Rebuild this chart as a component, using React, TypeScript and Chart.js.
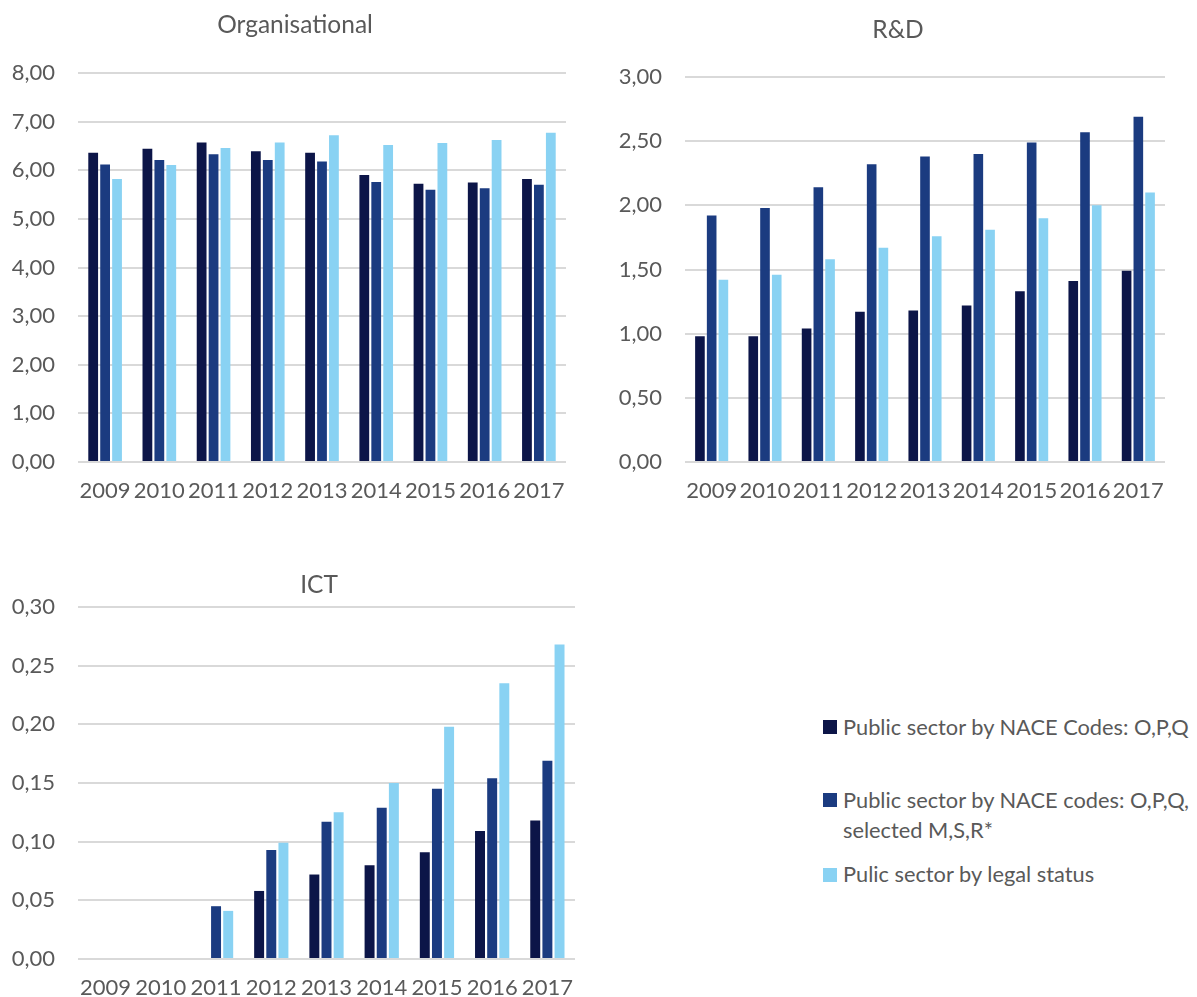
import React, { useEffect, useRef } from "react";
import { Chart, registerables } from "chart.js";

Chart.register(...registerables);

// Categories and series
const years = ["2009", "2010", "2011", "2012", "2013", "2014", "2015", "2016", "2017"];
const seriesNames = [
  "Public sector by NACE Codes: O,P,Q",
  "Public sector by NACE codes: O,P,Q, selected M,S,R*",
  "Pulic sector by legal status",
];
const seriesLegendLines = [
  ["Public sector by NACE Codes: O,P,Q"],
  ["Public sector by NACE codes: O,P,Q,", "selected M,S,R*"],
  ["Pulic sector by legal status"],
];

// Organisational
const orgNaceOPQ = [6.36, 6.44, 6.57, 6.39, 6.36, 5.9, 5.72, 5.75, 5.82];
const orgNaceExtended = [6.12, 6.21, 6.33, 6.21, 6.18, 5.76, 5.6, 5.63, 5.7];
const orgLegalStatus = [5.82, 6.11, 6.46, 6.57, 6.72, 6.52, 6.56, 6.62, 6.77];

// R&D
const rdNaceOPQ = [0.98, 0.98, 1.04, 1.17, 1.18, 1.22, 1.33, 1.41, 1.49];
const rdNaceExtended = [1.92, 1.98, 2.14, 2.32, 2.38, 2.4, 2.49, 2.57, 2.69];
const rdLegalStatus = [1.42, 1.46, 1.58, 1.67, 1.76, 1.81, 1.9, 2.0, 2.1];

// ICT
const ictNaceOPQ = [null, null, null, 0.058, 0.072, 0.08, 0.091, 0.109, 0.118];
const ictNaceExtended = [null, null, 0.045, 0.093, 0.117, 0.129, 0.145, 0.154, 0.169];
const ictLegalStatus = [null, null, 0.041, 0.099, 0.125, 0.15, 0.198, 0.235, 0.268];

// Axis ranges
const orgAxis = { max: 8, step: 1 };
const rdAxis = { max: 3, step: 0.5 };
const ictAxis = { max: 0.3, step: 0.05 };

const seriesColors = ["#0C1548", "#1B3B80", "#89D2F3"];
const textColor = "#595959";
const gridColor = "#D9D9D9";
const FONT = "Lato, 'Open Sans', sans-serif";

type Box = { left: number; top: number; width: number; height: number };
type Plot = { left: number; right: number; top: number; bottom: number };

type PanelProps = {
  title: string;
  series: (number | null)[][];
  axis: { max: number; step: number };
  box: Box;
  plot: Plot;
  titlePos: { x: number; y: number };
};

const fmt = (v: number) => v.toFixed(2).replace(".", ",");

function Panel({ title, series, axis, box, plot, titlePos }: PanelProps) {
  const ref = useRef<HTMLCanvasElement | null>(null);

  useEffect(() => {
    if (!ref.current) return;
    const titlePlugin = {
      id: "panelTitle",
      afterDraw(chart: any) {
        const ctx = chart.ctx;
        ctx.save();
        ctx.font = `24.5px ${FONT}`;
        ctx.fillStyle = textColor;
        ctx.textAlign = "center";
        ctx.textBaseline = "middle";
        ctx.fillText(title, titlePos.x, titlePos.y);
        ctx.restore();
      },
    };
    const chart = new Chart(ref.current, {
      type: "bar",
      data: {
        labels: years,
        datasets: series.map((d, i) => ({
          label: seriesNames[i],
          data: d,
          backgroundColor: seriesColors[i],
          borderWidth: 0,
          categoryPercentage: 0.66,
          barPercentage: 0.82,
        })),
      },
      options: {
        animation: false,
        responsive: false,
        maintainAspectRatio: false,
        layout: {
          padding: { top: plot.top, right: box.width - plot.right, bottom: 0, left: 0 },
        },
        plugins: {
          legend: { display: false },
          title: { display: false },
          tooltip: { enabled: false },
        },
        scales: {
          x: {
            grid: { display: false, drawTicks: false },
            border: { display: false },
            ticks: {
              color: textColor,
              font: { family: FONT, size: 22 },
              padding: 16,
              maxRotation: 0,
              autoSkip: false,
            },
            afterFit: (s: any) => {
              s.height = box.height - plot.bottom;
            },
          },
          y: {
            min: 0,
            max: axis.max,
            grid: { color: gridColor, lineWidth: 2, drawTicks: false },
            border: { display: false },
            ticks: {
              stepSize: axis.step,
              color: textColor,
              font: { family: FONT, size: 22 },
              padding: 23,
              callback: (v: any) => fmt(Number(v)),
            },
            afterFit: (s: any) => {
              s.width = plot.left;
            },
          },
        },
      },
      plugins: [titlePlugin],
    });
    return () => chart.destroy();
  }, []);

  return (
    <canvas
      ref={ref}
      width={box.width}
      height={box.height}
      style={{
        position: "absolute",
        left: box.left,
        top: box.top,
        width: box.width,
        height: box.height,
        display: "block",
      }}
    />
  );
}

function Legend() {
  const rows = [
    { square: 727, lines: [727] },
    { square: 800, lines: [800, 830] },
    { square: 875, lines: [874] },
  ];
  return (
    <>
      {rows.map((r, i) => (
        <React.Fragment key={i}>
          <div
            style={{
              position: "absolute",
              left: 823,
              top: r.square - 7,
              width: 14,
              height: 14,
              background: seriesColors[i],
            }}
          />
          {seriesLegendLines[i].map((t, j) => (
            <div
              key={j}
              style={{
                position: "absolute",
                left: 843,
                top: r.lines[j] - 15,
                height: 30,
                lineHeight: "30px",
                fontFamily: FONT,
                fontSize: 21.8,
                color: textColor,
                whiteSpace: "nowrap",
              }}
            >
              {t}
            </div>
          ))}
        </React.Fragment>
      ))}
    </>
  );
}

export default function App() {
  return (
    <div
      style={{
        position: "absolute",
        left: 0,
        top: 0,
        width: 1197,
        height: 997,
        overflow: "hidden",
        background: "#FFFFFF",
      }}
    >
      <Panel
        title="Organisational"
        series={[orgNaceOPQ, orgNaceExtended, orgLegalStatus]}
        axis={orgAxis}
        box={{ left: 0, top: 0, width: 590, height: 520 }}
        plot={{ left: 78, right: 566, top: 73, bottom: 462 }}
        titlePos={{ x: 295, y: 25 }}
      />
      <Panel
        title="R&D"
        series={[rdNaceOPQ, rdNaceExtended, rdLegalStatus]}
        axis={rdAxis}
        box={{ left: 600, top: 0, width: 597, height: 520 }}
        plot={{ left: 85, right: 565, top: 77, bottom: 462 }}
        titlePos={{ x: 298, y: 30 }}
      />
      <Panel
        title="ICT"
        series={[ictNaceOPQ, ictNaceExtended, ictLegalStatus]}
        axis={ictAxis}
        box={{ left: 0, top: 530, width: 600, height: 467 }}
        plot={{ left: 78, right: 575, top: 77, bottom: 429 }}
        titlePos={{ x: 319, y: 55 }}
      />
      <Legend />
    </div>
  );
}
